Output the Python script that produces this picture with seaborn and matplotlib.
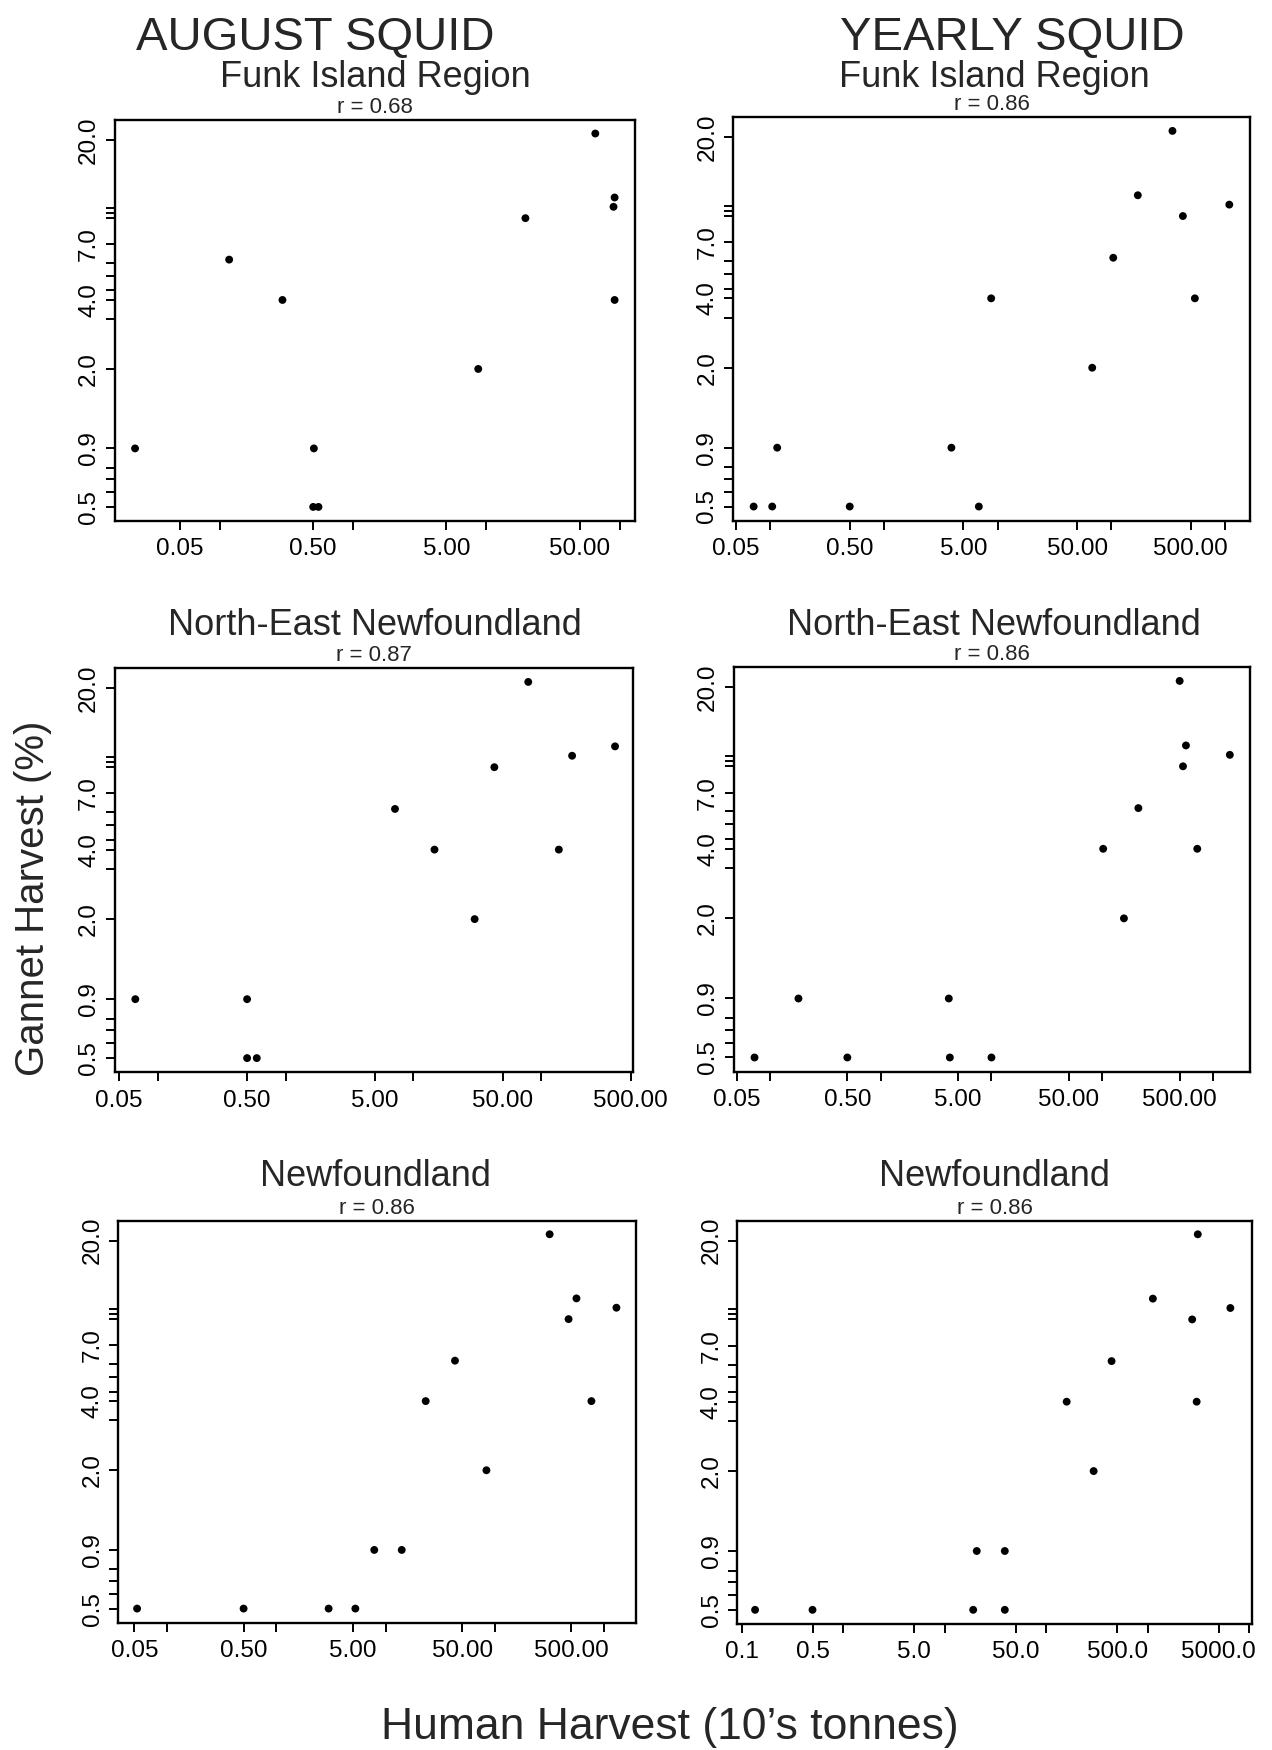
import numpy as np
import pandas as pd
import matplotlib.pyplot as plt
import seaborn as sns
from matplotlib.ticker import NullFormatter

sns.set_style("ticks")
plt.rcParams['font.family'] = ['Liberation Sans', 'DejaVu Sans']

W, H = 1272, 1750

# gannet harvest (%) vs human harvest (10's tonnes)
aug_funk_x = [0.023, 0.117, 0.294, 0.506, 0.50, 0.548, 8.67, 19.6, 65.6, 91.6, 89.9, 91.6]
aug_funk_y = [0.9, 6.0, 4.0, 0.9, 0.5, 0.5, 2.0, 9.1, 21.3, 11.2, 10.2, 4.0]

year_funk_x = [0.0714, 0.104, 0.115, 0.5, 3.92, 6.83, 8.77, 67.9, 104, 171, 345, 426, 543, 1091]
year_funk_y = [0.5, 0.5, 0.9, 0.5, 0.9, 0.5, 4.0, 2.0, 6.0, 11.2, 21.3, 9.1, 4.0, 10.2]

aug_ne_x = [0.0668, 0.5, 0.5, 0.595, 7.17, 14.6, 30.1, 42.9, 79, 137, 174, 377]
aug_ne_y = [0.9, 0.9, 0.5, 0.5, 6.0, 4.0, 2.0, 9.1, 21.3, 4.0, 10.2, 11.2]

year_ne_x = [0.0726, 0.181, 0.5, 4.12, 4.21, 10.0, 102, 157, 212, 500, 536, 570, 721, 1419]
year_ne_y = [0.5, 0.9, 0.5, 0.9, 0.5, 0.5, 4.0, 2.0, 6.0, 21.3, 9.1, 11.2, 4.0, 10.2]

aug_nf_x = [0.053, 0.5, 3.0, 5.27, 7.85, 14.0, 23.2, 43.0, 83.4, 316, 471, 556, 762, 1291]
aug_nf_y = [0.5, 0.5, 0.5, 0.5, 0.9, 0.9, 4.0, 6.0, 2.0, 21.3, 9.1, 11.2, 4.0, 10.2]

year_nf_x = [0.136, 0.5, 19.1, 20.7, 39.1, 39.1, 159, 293, 440, 1122, 2735, 3106, 3027, 6500]
year_nf_y = [0.5, 0.5, 0.5, 0.9, 0.9, 0.5, 4.0, 2.0, 6.0, 11.2, 9.1, 21.3, 4.0, 10.2]

r_values = ["r = 0.68", "r = 0.86", "r = 0.87", "r = 0.86", "r = 0.86", "r = 0.86"]
regions = ["Funk Island Region", "North-East Newfoundland", "Newfoundland"]

y_major = [0.5, 0.9, 2.0, 4.0, 7.0, 20.0]
y_minor = [0.58, 0.66, 0.74, 3.3, 4.4, 5.1, 5.8, 9.1, 9.6, 10.1]

x_major_a = [0.05, 0.5, 5, 50, 500, 5000]
x_minor_a = [0.1, 1, 10, 100, 1000]
x_major_b = [0.1, 0.5, 5, 50, 500, 5000]
x_minor_b = [1, 10, 100, 1000, 10000]


def box(l, r, t, b):
    return [l / W, 1 - b / H, (r - l) / W, (b - t) / H]


panels = [
    (aug_funk_x, aug_funk_y, box(114.6, 634.6, 120, 521), (0.01615, 129.4), x_major_a, x_minor_a, "%.2f"),
    (year_funk_x, year_funk_y, box(733, 1250, 117.3, 520.7), (0.047, 1659), x_major_a, x_minor_a, "%.2f"),
    (aug_ne_x, aug_ne_y, box(114.6, 632.9, 668.3, 1072.3), (0.046, 520), x_major_a, x_minor_a, "%.2f"),
    (year_ne_x, year_ne_y, box(733.6, 1250, 667.3, 1071.7), (0.047, 2158), x_major_a, x_minor_a, "%.2f"),
    (aug_nf_x, aug_nf_y, box(118.2, 636, 1220.7, 1622.7), (0.0356, 1950), x_major_a, x_minor_a, "%.2f"),
    (year_nf_x, year_nf_y, box(737.4, 1252, 1220.7, 1624), (0.0911, 10616), x_major_b, x_minor_b, "%.1f"),
]

fig = plt.figure(figsize=(W / 100, H / 100), dpi=100)

for i, (xs, ys, pos, xlim, xmaj, xmin, fmt) in enumerate(panels):
    ax = fig.add_axes(pos)
    df = pd.DataFrame({'harvest': xs, 'gannet': ys})
    sns.scatterplot(data=df, x='harvest', y='gannet', ax=ax, color='black',
                    s=32, edgecolor='none', legend=False)
    ax.set_xscale('log')
    ax.set_yscale('log')

    maj = [v for v in xmaj if xlim[0] <= v <= xlim[1]]
    mnr = [v for v in xmin if xlim[0] <= v <= xlim[1] * 1.01]
    ax.set_xticks(maj)
    ax.set_xticklabels([fmt % v for v in maj])
    ax.set_xticks(mnr, minor=True)
    ax.xaxis.set_minor_formatter(NullFormatter())
    ax.set_yticks(y_major)
    ax.set_yticklabels(["%.1f" % v for v in y_major])
    ax.set_yticks(y_minor, minor=True)
    ax.yaxis.set_minor_formatter(NullFormatter())
    ax.set_xlim(*xlim)
    ax.set_ylim(0.434, 24.4)

    ax.tick_params(which='both', direction='out', length=6.5, width=1.4,
                   labelsize=17.5, colors='black')
    ax.tick_params(axis='x', pad=6)
    ax.tick_params(axis='y', pad=4, labelrotation=90)
    for lab in ax.get_yticklabels():
        lab.set_va('center')
    for sp in ax.spines.values():
        sp.set_visible(True)
        sp.set_linewidth(1.7)
        sp.set_color('black')
    ax.set_xlabel('')
    ax.set_ylabel('')

    # r value sits just on top of the frame
    ax.text(0.5, 1.005, r_values[i], transform=ax.transAxes, ha='center',
            va='bottom', fontsize=16)

# column headers and region titles
fig.text(315 / W, 1 - 50 / H, "AUGUST SQUID", ha='center', va='baseline', fontsize=34)
fig.text(1012 / W, 1 - 50 / H, "YEARLY SQUID", ha='center', va='baseline', fontsize=34)

title_base = [87, 635, 1186]
for row, name in enumerate(regions):
    fig.text(375 / W, 1 - title_base[row] / H, name, ha='center', va='baseline', fontsize=26)
    fig.text(994 / W, 1 - title_base[row] / H, name, ha='center', va='baseline', fontsize=26)

fig.text(33 / W, 1 - 898 / H, "Gannet Harvest (%)", rotation=90,
         ha='center', va='center', fontsize=29)
fig.text(670 / W, 1 - 1727 / H, "Human Harvest (10\u2019s tonnes)",
         ha='center', va='center', fontsize=32)

fig.savefig('out.png', dpi=100)
